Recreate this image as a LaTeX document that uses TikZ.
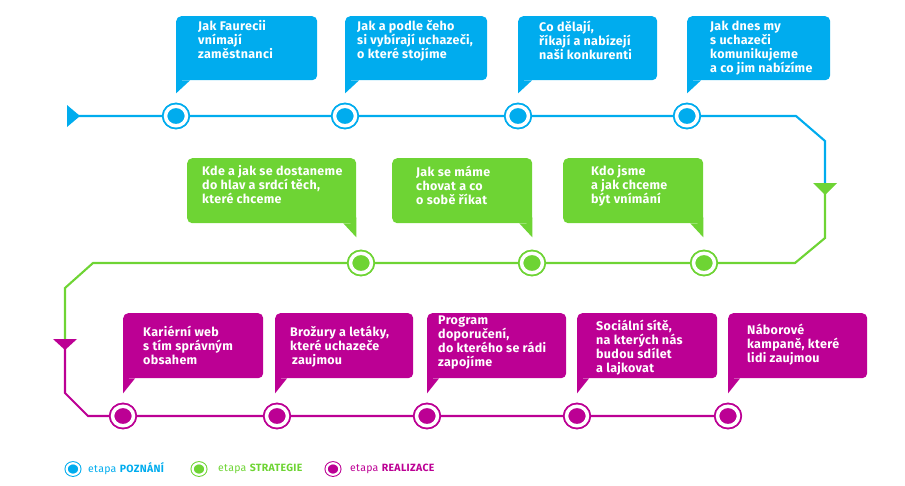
\documentclass[tikz,border=0pt]{standalone}
\usepackage{fontspec}
\setmainfont{Fira Sans}
\newfontfamily\bubfont{Fira Sans}[LetterSpace=2.5]
\newfontfamily\legfont{Fira Sans}[LetterSpace=3]
\usetikzlibrary{calc,shapes.geometric}
\definecolor{cblue}{RGB}{0,172,238}
\definecolor{cgreen}{RGB}{110,212,52}
\definecolor{cmag}{RGB}{188,0,148}
\begin{document}
\begin{tikzpicture}[x=1pt,y=-1pt,
  bubble/.style={rectangle, rounded corners=5pt, inner sep=0pt, minimum height=65pt, anchor=north west, fill=#1},
  btext/.style={anchor=north west, inner sep=0pt, align=left, text=white, font=\bubfont\fontsize{12.5}{14}\selectfont\bfseries, execute at begin node={\rule{0pt}{11pt}}},
  stopnode/.style={ellipse, minimum width=21pt, minimum height=19.5pt, inner sep=0pt, fill=#1, draw=#1, double=white, double distance=3.5pt, line width=1.75pt},
  legstop/.style={ellipse, minimum width=12.8pt, minimum height=11.5pt, inner sep=0pt, fill=#1, draw=#1, double=white, double distance=2.2pt, line width=1pt},
  legtext/.style={anchor=west, inner sep=0pt, text=#1, font=\legfont\fontsize{10.5}{12}\selectfont},
  track/.style={line width=2.1pt, draw=#1, line join=miter}]
\useasboundingbox (0,0) rectangle (905,485);

% track coordinates
\coordinate (p0) at (68,116);
\coordinate (p1) at (796,116);
\coordinate (p2) at (825,141);
\coordinate (p3) at (825,186);
\coordinate (p4) at (825,238);
\coordinate (p5) at (795,263);
\coordinate (p6) at (93,263);
\coordinate (p7) at (65,288);
\coordinate (p8) at (65,342);
\coordinate (p9) at (65,393);
\coordinate (p10) at (88,416);

% stops (placed first to be named)
\node[stopnode=cblue] (s1) at (176,116) {};
\node[stopnode=cblue] (s2) at (345,116) {};
\node[stopnode=cblue] (s3) at (518,116) {};
\node[stopnode=cblue] (s4) at (687,116) {};
\node[stopnode=cgreen] (g1) at (361,263) {};
\node[stopnode=cgreen] (g2) at (532,263) {};
\node[stopnode=cgreen] (g3) at (704,263) {};
\node[stopnode=cmag] (m1) at (123,416) {};
\node[stopnode=cmag] (m2) at (277,416) {};
\node[stopnode=cmag] (m3) at (427,416) {};
\node[stopnode=cmag] (m4) at (577,416) {};
\node[stopnode=cmag] (m5) at (728,416) {};

% tracks
\path[track=cblue] (p0) -- (s1.center) -- (s2.center) -- (s3.center) -- (s4.center) -- (p1) -- (p2) -- (p3);
\path[track=cgreen] (p3) -- (p4) -- (p5) -- (g3.center) -- (g2.center) -- (g1.center) -- (p6) -- (p7) -- (p8);
\path[track=cmag] (p8) -- (p9) -- (p10) -- (m1.center) -- (m2.center) -- (m3.center) -- (m4.center) -- (m5.center);

% redraw stops on top of the track
\foreach \n/\c in {s1/cblue,s2/cblue,s3/cblue,s4/cblue,g1/cgreen,g2/cgreen,g3/cgreen,m1/cmag,m2/cmag,m3/cmag,m4/cmag,m5/cmag}{
  \node[stopnode=\c] at (\n) {};
}

% stage triangles
\coordinate (tb) at (67,116);
\fill[cblue] (tb) ++(0,-11) -- ++(13,11) -- ++(-13,11) -- cycle;
\coordinate (tg) at (825,183);
\fill[cgreen] (tg) ++(-12,0) -- ++(24,0) -- ++(-12,12) -- cycle;
\coordinate (tm) at (65,339);
\fill[cmag] (tm) ++(-12,0) -- ++(24,0) -- ++(-12,11) -- cycle;

% blue bubbles
\foreach \nm/\x/\w in {bb1/176/141,bb2/345/142,bb3/518/139,bb4/687/143}{
  \node[bubble=cblue, minimum width=\w pt, minimum height=64pt] (\nm) at (\x,16) {};
  \fill[cblue] ($(\nm.south west)+(0,-6)$) -- ($(\nm.south west)+(0,13)$) -- ($(\nm.south west)+(14,0)$) -- ($(\nm.south west)+(6,0)$) -- cycle;
}
% green bubbles
\foreach \nm/\x/\w in {gb1/187/169,gb2/392/140,gb3/563/140}{
  \node[bubble=cgreen, minimum width=\w pt] (\nm) at (\x,158) {};
  \fill[cgreen] ($(\nm.south east)+(0,-6)$) -- ($(\nm.south east)+(0,14)$) -- ($(\nm.south east)+(-13,0)$) -- ($(\nm.south east)+(-6,0)$) -- cycle;
}
% magenta bubbles
\foreach \nm/\x/\w in {mb1/123/140,mb2/275/138,mb3/427/139,mb4/577/140,mb5/728/139}{
  \node[bubble=cmag, minimum width=\w pt] (\nm) at (\x,313) {};
  \fill[cmag] ($(\nm.south west)+(0,-6)$) -- ($(\nm.south west)+(0,15)$) -- ($(\nm.south west)+(12,0)$) -- ($(\nm.south west)+(6,0)$) -- cycle;
}

% texts
\node[btext] (tb1) at (198,20.5) {Jak Faurecii\\vnímají\\zaměstnanci};
\node[btext] (tb2) at (357,20.5) {Jak a podle čeho\\si vybírají uchazeči,\\o které stojíme};
\node[btext] (tb3) at (539,20.5) {Co dělají,\\říkají a nabízejí\\naši konkurenti};
\node[btext] (tb4) at (710,20.5) {Jak dnes my\\s uchazeči\\komunikujeme\\a co jim nabízíme};

\node[btext] (tg1) at (202,165.5) {Kde a jak se dostaneme\\do hlav a srdcí těch,\\které chceme};
\node[btext] (tg2) at (416,165.5) {Jak se máme\\chovat a co\\o sobě říkat};
\node[btext] (tg3) at (591,165.5) {Kdo jsme\\a jak chceme\\být vnímání};

\node[btext] (tm1) at (143,325.5) {Kariérní web\\s tím správným\\obsahem};
\node[btext] (tm2) at (290,325.5) {Brožury a letáky,\\které uchazeče\\\hspace{2pt}zaujmou};
\node[btext] (tm3) at (438,315.5) {Program\\doporučení,\\do kterého se rádi\\zapojíme};
\node[btext] (tm4) at (596,319.5) {Sociální sítě,\\na kterých nás\\budou sdílet\\a lajkovat};
\node[btext] (tm5) at (747,323.5) {Náborové\\kampaně, které\\lidi zaujmou};

% legend
\node[legstop=cblue] (l1) at (73,469) {};
\node[legtext=cblue] (lt1) at (88,469) {etapa \textbf{POZNÁNÍ}};
\node[legstop=cgreen] (l2) at (199,469) {};
\node[legtext=cgreen] (lt2) at (218,469) {etapa \textbf{STRATEGIE}};
\node[legstop=cmag] (l3) at (333,469) {};
\node[legtext=cmag] (lt3) at (350,469) {etapa \textbf{REALIZACE}};
\end{tikzpicture}
\end{document}
